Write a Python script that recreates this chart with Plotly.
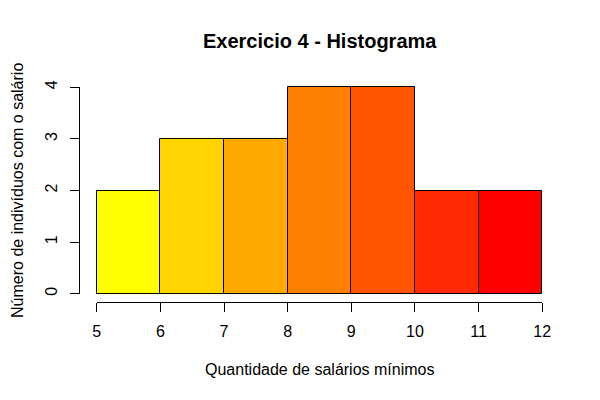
import plotly.graph_objects as go

# Data
bin_edges = [5, 6, 7, 8, 9, 10, 11, 12]
counts = [2, 3, 3, 4, 4, 2, 2]
bar_colors = ["#FFFF00", "#FFD400", "#FFAA00", "#FF8000", "#FF5500", "#FF2A00", "#FF0000"]
x_ticks = [5, 6, 7, 8, 9, 10, 11, 12]
y_ticks = [0, 1, 2, 3, 4]

title = "Exercicio 4 - Histograma"
x_title = "Quantidade de salários mínimos"
y_title = "Número de indivíduos com o salário"

mids = [(a + b) / 2 for a, b in zip(bin_edges[:-1], bin_edges[1:])]
widths = [b - a for a, b in zip(bin_edges[:-1], bin_edges[1:])]

FONT = "Liberation Sans, Arial, sans-serif"

fig = go.Figure()
fig.add_trace(go.Bar(
    x=mids, y=counts, width=widths,
    marker=dict(color=bar_colors, line=dict(color="black", width=1)),
    xaxis="x", yaxis="y", hoverinfo="skip", showlegend=False,
))
# invisible trace to make the R-style axis subplot exist
fig.add_trace(go.Scatter(
    x=mids, y=counts, mode="markers", marker=dict(opacity=0),
    xaxis="x2", yaxis="y2", hoverinfo="skip", showlegend=False,
))

xmin, xmax = bin_edges[0], bin_edges[-1]
ymax = max(y_ticks)
xpad = 0.04 * (xmax - xmin)
ypad = 0.04 * ymax
dx = xpad / (xmax - xmin + 2 * xpad)
dy = ypad / (ymax + 2 * ypad)

fig.update_layout(
    width=600, height=400,
    margin=dict(l=79, r=40, t=79, b=98, autoexpand=False),
    paper_bgcolor="white", plot_bgcolor="rgba(0,0,0,0)",
    font=dict(family=FONT, size=16, color="black"),
    bargap=0,
    xaxis=dict(range=[xmin - xpad, xmax + xpad], domain=[0, 1], visible=False, fixedrange=True),
    yaxis=dict(range=[-ypad, ymax + ypad], domain=[0, 1], visible=False, fixedrange=True),
    xaxis2=dict(
        range=[xmin, xmax], domain=[dx, 1 - dx], anchor="free", position=0,
        showline=True, linecolor="black", linewidth=1,
        ticks="outside", ticklen=9, tickwidth=1, tickcolor="black",
        tickvals=x_ticks, ticktext=[str(v) for v in x_ticks],
        showgrid=False, zeroline=False, ticklabelstandoff=6,
        tickfont=dict(size=16, family=FONT), fixedrange=True,
    ),
    yaxis2=dict(
        range=[0, ymax], domain=[dy, 1 - dy], anchor="free", position=0,
        showline=True, linecolor="black", linewidth=1,
        ticks="outside", ticklen=9, tickwidth=1, tickcolor="black",
        tickvals=y_ticks, ticktext=[str(v) for v in y_ticks], tickangle=-90,
        showgrid=False, zeroline=False, ticklabelstandoff=7,
        tickfont=dict(size=16, family=FONT), fixedrange=True,
    ),
    annotations=[
        dict(text=f"<b>{title}</b>", x=0.5, y=1.172, xref="paper", yref="paper",
             showarrow=False, xanchor="center", yanchor="middle",
             font=dict(size=20, family=FONT)),
        dict(text=x_title, x=0.5, y=-0.3045, xref="paper", yref="paper",
             showarrow=False, xanchor="center", yanchor="middle",
             font=dict(size=16, family=FONT)),
        dict(text=y_title, x=-0.128, y=0.5, xref="paper", yref="paper",
             showarrow=False, xanchor="center", yanchor="middle", textangle=-90,
             font=dict(size=16, family=FONT)),
    ],
)

fig.write_html("out.html", config={"displayModeBar": False},
               post_script="document.body.style.margin='0';")
